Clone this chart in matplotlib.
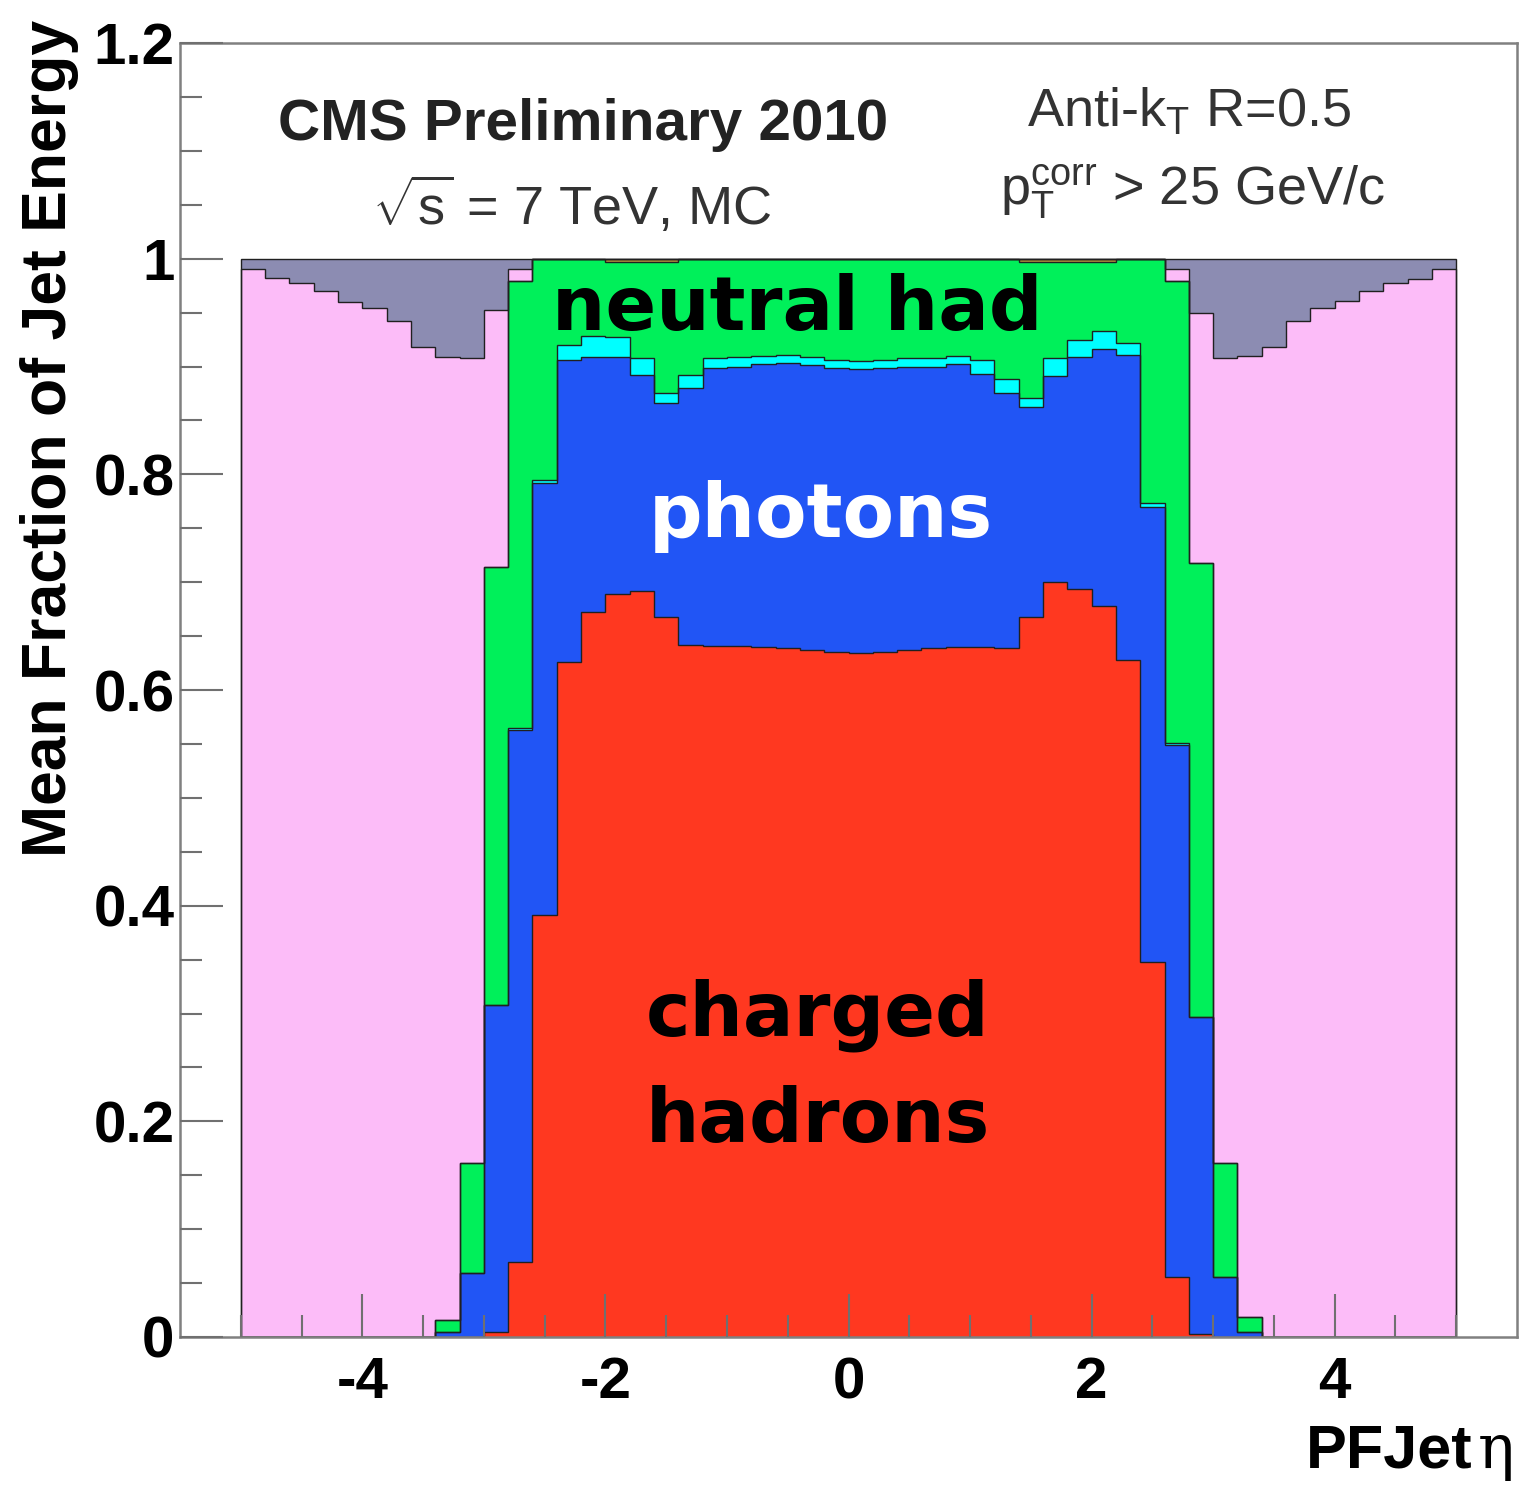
import numpy as np
import matplotlib.pyplot as plt

plt.rcParams['font.family'] = 'Liberation Sans'
plt.rcParams['mathtext.fontset'] = 'custom'
plt.rcParams['mathtext.rm'] = 'Liberation Sans'
plt.rcParams['mathtext.it'] = 'Liberation Sans:italic'
plt.rcParams['mathtext.bf'] = 'Liberation Sans:bold'

W, H = 1531, 1496

# 50 eta bins of width 0.2 between -5 and 5
eta_edges = np.linspace(-5, 5, 51)

# mean energy fraction per bin, one list per PF candidate type
charged = [0]*10 + [0.005, 0.070, 0.391, 0.626, 0.672, 0.689, 0.692, 0.668, 0.642, 0.641,
                    0.641, 0.640, 0.639, 0.637, 0.635, 0.634, 0.635, 0.637, 0.639, 0.640,
                    0.640, 0.639, 0.668, 0.700, 0.694, 0.678, 0.628, 0.348, 0.056, 0.003] + [0]*10
photons = [0]*8 + [0.005, 0.059, 0.303, 0.493, 0.401, 0.280, 0.237, 0.220, 0.200, 0.198,
                   0.238, 0.258, 0.259, 0.262, 0.264, 0.264, 0.264, 0.264, 0.264, 0.263,
                   0.261, 0.262, 0.253, 0.236, 0.194, 0.191, 0.215, 0.238, 0.283, 0.422,
                   0.493, 0.294, 0.056, 0.005] + [0]*8
electrons = [0]*11 + [0.002, 0.003, 0.014, 0.019, 0.018, 0.016, 0.009, 0.012, 0.009, 0.009,
                      0.008, 0.008, 0.008, 0.007, 0.007, 0.007, 0.008, 0.008, 0.008, 0.013,
                      0.013, 0.009, 0.017, 0.016, 0.017, 0.011, 0.003, 0.002] + [0]*11
neutral = [0]*8 + [0.011, 0.102, 0.406, 0.414, 0.205, 0.080, 0.072, 0.070, 0.089, 0.122,
                   0.108, 0.092, 0.091, 0.090, 0.089, 0.091, 0.094, 0.095, 0.094, 0.092,
                   0.092, 0.090, 0.094, 0.112, 0.126, 0.089, 0.072, 0.064, 0.078, 0.227,
                   0.428, 0.421, 0.105, 0.014] + [0]*8
muons = [0]*15 + [0.003]*3 + [0]*14 + [0.003]*4 + [0]*14
hf_had = [0.990, 0.982, 0.977, 0.970, 0.960, 0.954, 0.942, 0.918, 0.893, 0.747, 0.238, 0.011] \
    + [0]*26 + [0.011, 0.232, 0.747, 0.891, 0.918, 0.942, 0.954, 0.961, 0.970, 0.977, 0.981, 0.990]
hf_em = [0.010, 0.018, 0.023, 0.030, 0.040, 0.046, 0.058, 0.082, 0.091, 0.092, 0.048, 0.010] \
    + [0]*26 + [0.010, 0.050, 0.092, 0.090, 0.082, 0.058, 0.046, 0.039, 0.030, 0.023, 0.019, 0.010]

colors = ['#FF3820', '#2155F5', '#00FFFF', '#00F05A', '#B8943C', '#FCBCF8', '#8C8CB2']

xticks = [-4, -2, 0, 2, 4]
yticks = [0, 0.2, 0.4, 0.6, 0.8, 1.0, 1.2]
ytick_labels = ['0', '0.2', '0.4', '0.6', '0.8', '1', '1.2']

fig = plt.figure(figsize=(W/100, H/100), dpi=100)
ax = fig.add_axes([180/W, 1 - 1337/H, (1517-180)/W, (1337-43)/H])

# THStack style: cumulative histograms drawn back to front
layers = np.array([charged, photons, electrons, neutral, muons, hf_had, hf_em])
tops = np.cumsum(layers, axis=0)
for top, c in reversed(list(zip(tops, colors))):
    ax.stairs(top, eta_edges, fill=True, color=c, lw=0, zorder=1)
for top in tops:
    ax.stairs(top, eta_edges, color='#202020', lw=1.0, zorder=1.5)

ax.set_xlim(-5.5, 5.5)
ax.set_ylim(0, 1.2)
ax.set_xticks(xticks, labels=[str(t) for t in xticks])
ax.set_xticks(np.arange(-5, 5.01, 0.5), minor=True)
ax.set_yticks(yticks, labels=ytick_labels)
ax.set_yticks(np.arange(0, 1.201, 0.05), minor=True)
ax.tick_params(which='both', direction='in', color='#707070', width=1.5,
               top=False, right=False)
ax.tick_params(which='major', length=31, labelsize=42)
ax.tick_params(which='minor', length=16)
ax.tick_params(axis='x', which='major', pad=14)
ax.tick_params(axis='y', which='major', pad=4)
for lbl in ax.get_xticklabels() + ax.get_yticklabels():
    lbl.set_fontweight('bold')
for s in ax.spines.values():
    s.set_color('#808080')
    s.set_linewidth(1.8)
ax.set_axisbelow(False)


def fpos(x, y):
    return x / W, 1 - y / H


fig.text(*fpos(50, 20), 'Mean Fraction of Jet Energy', rotation=90, ha='center', va='top',
         fontsize=45, fontweight='bold')
fig.text(*fpos(1472, 1468), 'PFJet', ha='right', va='baseline', fontsize=44, fontweight='bold')
fig.text(*fpos(1478, 1468), '\u03b7', ha='left', va='baseline', fontsize=44, family='DejaVu Serif')

fig.text(*fpos(583, 140), 'CMS Preliminary 2010', ha='center', va='baseline',
         fontsize=42, fontweight='bold', color='#222222')
fig.text(*fpos(572, 225), r'$\sqrt{\mathrm{s}}$ = 7 TeV, MC', ha='center', va='baseline',
         fontsize=39, color='#333333')
fig.text(*fpos(1027, 127), r'Anti-k$_{\mathrm{T}}$ R=0.5', ha='left', va='baseline',
         fontsize=39, color='#333333')
fig.text(*fpos(1000, 205), r'p$_{\mathrm{T}}^{\mathrm{corr}}$ > 25 GeV/c', ha='left', va='baseline',
         fontsize=39, color='#333333')

# hand-written labels on the stack
hand = dict(ha='center', va='baseline', fontsize=54, fontweight='bold', family='DejaVu Sans')
fig.text(*fpos(797, 330), 'neutral had', color='black', **hand)
fig.text(*fpos(821, 537), 'photons', color='white', **hand)
fig.text(*fpos(818, 1035), 'charged', color='black', **hand)
fig.text(*fpos(818, 1142), 'hadrons', color='black', **hand)

fig.savefig('out.png', dpi=100)
